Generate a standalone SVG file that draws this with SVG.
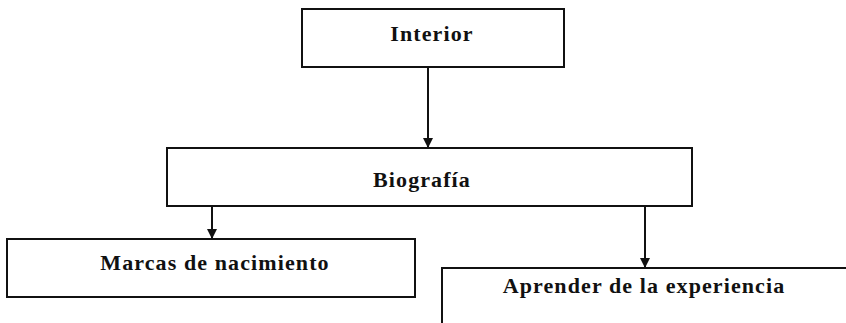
<svg xmlns="http://www.w3.org/2000/svg" width="846" height="323" viewBox="0 0 846 323">
<style>
.box{fill:#fff;stroke:#111;stroke-width:2}
.lbl{font-family:"Liberation Serif","Times New Roman",serif;font-weight:bold;font-size:22px;fill:#111;text-anchor:middle;letter-spacing:1.1px}
.edge{stroke:#111;stroke-width:2;fill:none;marker-end:url(#arr)}
</style>
<defs>
<marker id="arr" markerWidth="10" markerHeight="12" refX="9" refY="5" orient="auto" markerUnits="userSpaceOnUse" viewBox="0 0 10 10">
<path d="M0,0 L10,5 L0,10 Z" fill="#111"/>
</marker>
</defs>
<rect width="846" height="323" fill="#fff"/>
<g id="connectors">
<line class="edge" x1="428" y1="67" x2="428" y2="147"/>
<line class="edge" x1="212" y1="206" x2="212" y2="238"/>
<line class="edge" x1="645" y1="206" x2="645" y2="267"/>
</g>
<g id="interior">
<rect class="box" x="302" y="9" width="262" height="58"/>
<text class="lbl" x="432" y="41">Interior</text>
</g>
<g id="biografia">
<rect class="box" x="167" y="148" width="525" height="58"/>
<text class="lbl" x="422" y="187">Biografía</text>
</g>
<g id="marcas">
<rect class="box" x="7" y="239" width="408" height="58"/>
<text class="lbl" x="215" y="270">Marcas de nacimiento</text>
</g>
<g id="aprender">
<path class="box" d="M442,323 L442,268 L846,268"/>
<text class="lbl" x="644" y="293">Aprender de la experiencia</text>
</g>
</svg>
